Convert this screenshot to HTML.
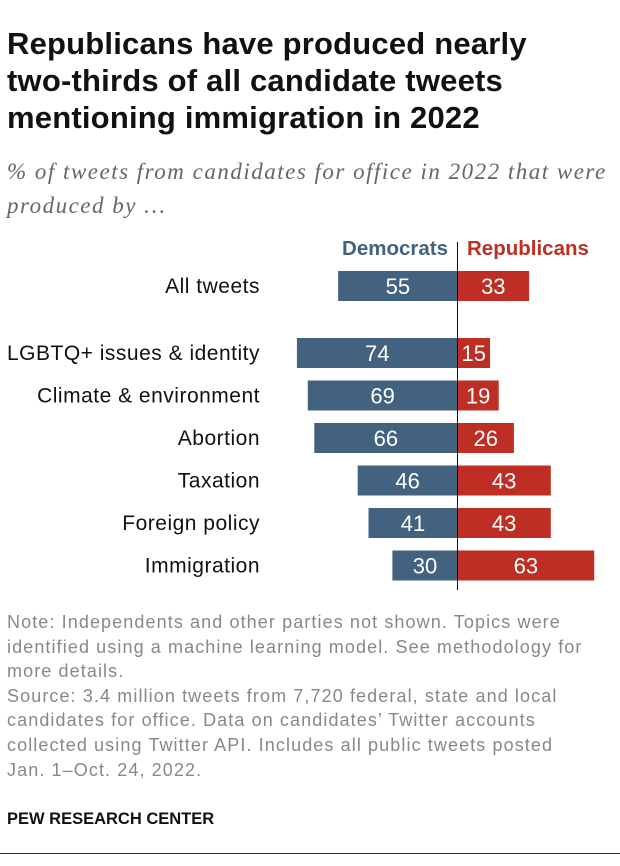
<!DOCTYPE html>
<html><head><meta charset="utf-8"><style>
body{margin:0;background:#fff;font-family:"Liberation Sans",sans-serif;}
#wrap{position:relative;width:620px;height:866px;overflow:hidden}
h1{position:absolute;left:7px;top:25px;margin:0;font-size:31px;line-height:37px;font-weight:bold;color:#111;letter-spacing:0.2px}
.sub{position:absolute;left:7px;top:155px;font-family:"Liberation Serif",serif;font-style:italic;font-size:23px;line-height:34px;color:#666;letter-spacing:1.5px;white-space:nowrap}
.note{position:absolute;left:7px;top:610px;font-size:18px;line-height:24.6px;color:#888;letter-spacing:1.1px;white-space:nowrap}
.pew{position:absolute;left:7px;top:810px;font-size:16.5px;font-weight:bold;color:#111}
.rule{position:absolute;left:0;top:853px;width:620px;height:1px;background:#333}
</style></head><body><div id="wrap">
<h1>Republicans have produced nearly<br>two-thirds of all candidate tweets<br>mentioning immigration in 2022</h1>
<div class="sub">% of tweets from candidates for office in 2022 that were<br>produced by …</div>
<svg id="svg" width="620" height="866" style="position:absolute;left:0;top:0"></svg>
<div class="note">Note: Independents and other parties not shown. Topics were<br>identified using a machine learning model. See methodology for<br>more details.<br>Source: 3.4 million tweets from 7,720 federal, state and local<br>candidates for office. Data on candidates’ Twitter accounts<br>collected using Twitter API. Includes all public tweets posted<br>Jan. 1–Oct. 24, 2022.</div>
<div class="pew">PEW RESEARCH CENTER</div>
<div class="rule"></div>
</div>
<script>
const categories=["All tweets","LGBTQ+ issues & identity","Climate & environment","Abortion","Taxation","Foreign policy","Immigration"];
const demValues=[55,74,69,66,46,41,30];
const repValues=[33,15,19,26,43,43,63];
const NS="http://www.w3.org/2000/svg";
const svg=document.getElementById('svg');
const cx=457.5, k=2.17;
function x(v){return v*k;}
function y(i){return i===0?271:338+(i-1)*42.5;}
const bh=30;
function mk(t,a){const e=document.createElementNS(NS,t);for(const n in a)e.setAttribute(n,a[n]);svg.appendChild(e);return e;}
let h=mk('text',{x:448,y:255,'text-anchor':'end','font-size':20.5,'font-weight':'bold',fill:'#436280','font-family':'Liberation Sans'});h.textContent='Democrats';


h=mk('text',{x:467,y:255,'font-size':20.5,'font-weight':'bold',fill:'#be2e24','font-family':'Liberation Sans'});h.textContent='Republicans';


categories.forEach((c,i)=>{
 const yy=y(i);
 const l=mk('text',{x:260,y:yy+bh/2+7,'text-anchor':'end','font-size':21,'letter-spacing':0.5,fill:'#111','font-family':'Liberation Sans'});l.textContent=c;
 
 
 const d=mk('rect',{x:cx-x(demValues[i]),y:yy,width:x(demValues[i]),height:bh,fill:'#436280'});
 
 
 const r=mk('rect',{x:cx,y:yy,width:x(repValues[i]),height:bh,fill:'#be2e24'});
 
 
 const dt=mk('text',{x:cx-x(demValues[i])/2,y:yy+bh/2+8,'text-anchor':'middle','font-size':22,fill:'#fff','font-family':'Liberation Sans'});dt.textContent=demValues[i];
 
 
 const rt=mk('text',{x:cx+x(repValues[i])/2,y:yy+bh/2+8,'text-anchor':'middle','font-size':22,fill:'#fff','font-family':'Liberation Sans'});rt.textContent=repValues[i];
 
 
});
const ax=mk('line',{x1:cx,x2:cx,y1:242,y2:590,stroke:'#111','stroke-width':1});


</script></body></html>
